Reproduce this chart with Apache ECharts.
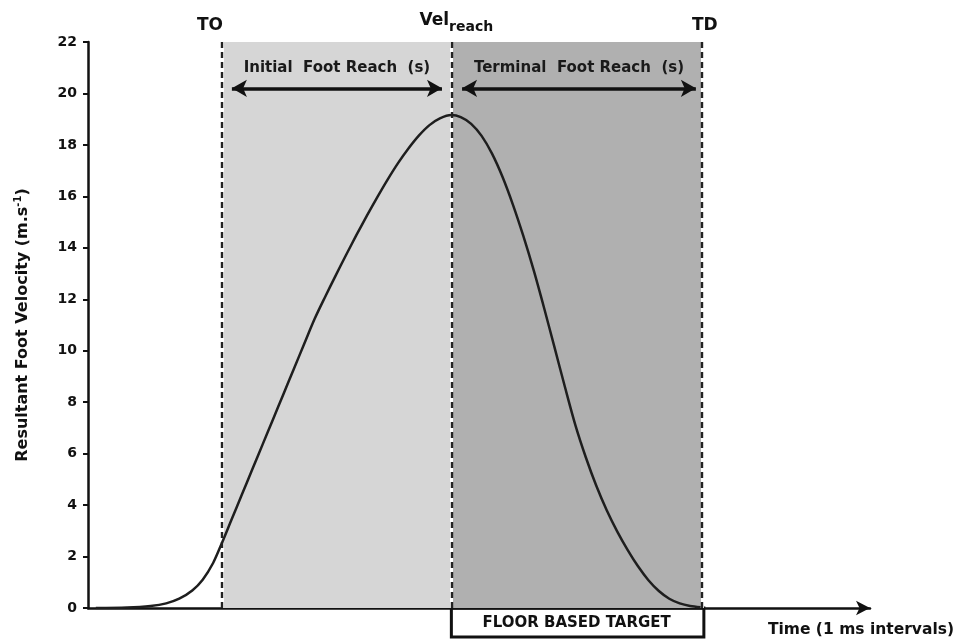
<!DOCTYPE html>
<html>
<head>
<meta charset="utf-8">
<title>Resultant Foot Velocity</title>
<script src="https://cdn.jsdelivr.net/npm/echarts@6/dist/echarts.min.js"></script>
<style>
  html, body { margin: 0; padding: 0; background: #fff; }
  #chart { width: 956px; height: 642px; }
</style>
</head>
<body>
<div id="chart"></div>
<script>
// time (ms) and resultant foot velocity (m/s)
const timeMs = [3, 15, 24, 30, 35, 40, 44, 48, 51.3, 55, 59, 63, 67, 71, 75, 79, 83, 87, 91, 95, 99,
  103, 107, 111, 115, 119, 123, 127, 131, 135, 139.4, 143, 147, 151, 155, 159, 163, 167, 171, 175,
  179, 183, 187, 191, 195, 199, 203, 207, 211, 215, 219, 223, 227, 231, 235]
const velocity = [0, 0.02, 0.08, 0.18, 0.36, 0.68, 1.1, 1.75, 2.51, 3.42, 4.4, 5.38, 6.36, 7.34, 8.32,
  9.3, 10.28, 11.25, 12.1, 12.92, 13.72, 14.5, 15.25, 15.97, 16.66, 17.3, 17.87, 18.37, 18.77, 19.03,
  19.16, 19.08, 18.82, 18.35, 17.66, 16.76, 15.68, 14.46, 13.12, 11.65, 10.12, 8.58, 7.1, 5.85, 4.75,
  3.8, 2.98, 2.26, 1.62, 1.08, 0.66, 0.36, 0.18, 0.08, 0.03]

// event markers (ms)
const eventNames = ['TO', 'Vel', 'TD']
const eventTimes = [51.4, 139.4, 235.5]
const yTicks = [0, 2, 4, 6, 8, 10, 12, 14, 16, 18, 20, 22]

// phase arrows: [start, end] in ms, at this velocity level
const phaseLabels = ['Initial  Foot Reach  (s)', 'Terminal  Foot Reach  (s)']
const phaseSpans = [[55.2, 135.8], [143.5, 233.2]]
const arrowLevel = 20.2

const FONT = 'DejaVu Sans'
const [TO, VEL, TD] = eventTimes
const curve = timeMs.map((t, i) => [t, velocity[i]])
// small nudges so the event names sit like in the original figure
const labelShift = { TO: [-12, 0], Vel: [5, 0], TD: [3, 0] }

const chart = echarts.init(document.getElementById('chart'))

const eventLines = []
eventTimes.forEach(t => {
  eventLines.push({ xAxis: t, label: { show: false }, lineStyle: { color: '#fff', type: 'solid', width: 3 } })
})
eventTimes.forEach((t, i) => {
  const name = eventNames[i]
  eventLines.push({
    xAxis: t,
    lineStyle: { color: '#222', type: [6, 4], width: 2.4 },
    label: {
      show: true,
      position: 'end',
      distance: 8,
      offset: labelShift[name],
      formatter: name === 'Vel' ? '{a|Vel}{b|reach}' : '{a|' + name + '}',
      rich: {
        a: { fontFamily: FONT, fontWeight: 'bold', fontSize: 17, color: '#111' },
        b: { fontFamily: FONT, fontWeight: 'bold', fontSize: 14, color: '#111', padding: [13, 0, 0, 0] }
      }
    }
  })
})
const arrowLines = phaseSpans.map((span, i) => [
  { coord: [span[0], arrowLevel], symbol: 'arrow', symbolSize: [13, 15],
    lineStyle: { color: '#111', type: 'solid', width: 3.5 },
    label: {
      show: true, position: 'middle', distance: 13, formatter: phaseLabels[i],
      fontFamily: FONT, fontWeight: 'bold', fontSize: 15, color: '#1a1a1a'
    } },
  { coord: [span[1], arrowLevel], symbol: 'arrow', symbolSize: [13, 15] }
])

const option = {
  animation: false,
  backgroundColor: '#fff',
  grid: { left: 88, right: 86, top: 42, bottom: 34 },
  xAxis: {
    type: 'value',
    min: 0,
    max: 300,
    axisLine: { lineStyle: { color: '#111', width: 2.5 }, symbol: ['none', 'arrow'], symbolSize: [11, 14] },
    axisTick: { show: false },
    axisLabel: { show: false },
    splitLine: { show: false }
  },
  yAxis: {
    type: 'value',
    min: 0,
    max: 22,
    interval: 2,
    name: 'Resultant Foot Velocity (m.s{sup|-1})',
    nameLocation: 'middle',
    nameGap: 56,
    nameTextStyle: {
      fontFamily: FONT, fontWeight: 'bold', fontSize: 16, color: '#111',
      rich: { sup: { fontFamily: FONT, fontWeight: 'bold', fontSize: 10, color: '#111', padding: [0, 0, 9, 0] } }
    },
    axisLine: { show: true, lineStyle: { color: '#111', width: 2.5 } },
    axisTick: { show: true, length: 5, lineStyle: { color: '#111', width: 2 } },
    axisLabel: {
      margin: 11, fontFamily: FONT, fontWeight: 'bold', fontSize: 14, color: '#111',
      formatter: v => yTicks.includes(v) ? String(v) : ''
    },
    splitLine: { show: false }
  },
  series: [{
    type: 'line',
    data: curve,
    smooth: 0.3,
    showSymbol: false,
    z: 5,
    lineStyle: { color: '#1e1e1e', width: 2.5 },
    markArea: {
      silent: true,
      data: [
        [{ xAxis: TO, yAxis: 0, itemStyle: { color: '#d6d6d6' } }, { xAxis: VEL, yAxis: 22 }],
        [{ xAxis: VEL, yAxis: 0, itemStyle: { color: '#b0b0b0' } }, { xAxis: TD, yAxis: 22 }]
      ]
    },
    markLine: {
      silent: true,
      symbol: 'none',
      data: eventLines.concat(arrowLines)
    }
  }]
}
chart.setOption(option)

// floor based target box under the terminal phase, plus the x axis caption
const x1 = chart.convertToPixel({ xAxisIndex: 0 }, VEL)
const x2 = chart.convertToPixel({ xAxisIndex: 0 }, TD)
const y0 = chart.convertToPixel({ yAxisIndex: 0 }, 0)
chart.setOption({
  graphic: [
    {
      type: 'rect',
      shape: { x: x1, y: y0, width: x2 - x1 + 2, height: 29 },
      style: { fill: '#fff', stroke: '#111', lineWidth: 3 }
    },
    {
      type: 'text',
      x: (x1 + x2) / 2, y: y0 + 15,
      style: { text: 'FLOOR BASED TARGET', fontFamily: FONT, fontWeight: 'bold', fontSize: 15, fill: '#111', align: 'center', verticalAlign: 'middle' }
    },
    {
      type: 'text',
      right: 2, top: 622,
      style: { text: 'Time (1 ms intervals)', fontFamily: FONT, fontWeight: 'bold', fontSize: 15.5, fill: '#111' }
    }
  ]
})
</script>
</body>
</html>
